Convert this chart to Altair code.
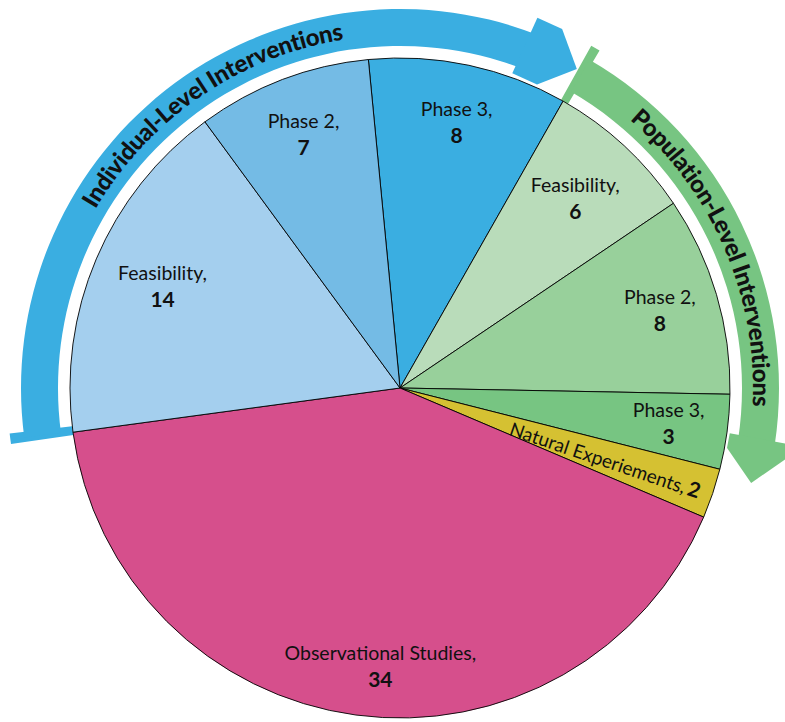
import math
import altair as alt
import pandas as pd

# ---------------- data ----------------
slice_names = ["Phase 3,", "Feasibility,", "Phase 2,", "Phase 3,",
               "Natural Experiements,", "Observational Studies,",
               "Feasibility,", "Phase 2,"]
slice_values = [8, 6, 8, 3, 2, 34, 14, 7]
slice_colors = ["#3aaee1", "#b9dcba", "#98d09b", "#77c582",
                "#d5c132", "#d64f8c", "#a4cfee", "#74bbe5"]
group_titles = ["Individual-Level Interventions", "Population-Level Interventions"]
group_colors = ["#3aaee1", "#77c582"]

# ---------------- layout ----------------
W, H = 785, 722
CX, CY = 400, 388
R = 330
T0 = math.radians(-5.5)
RB0, RB1 = 342, 379      # band radii
RT = 360                 # curved text radius


def rad(d):
    return math.radians(d)


df = pd.DataFrame({
    "idx": list(range(len(slice_values))),
    "name": slice_names,
    "value": slice_values,
    "num": [str(v) for v in slice_values],
})

pie = alt.Chart(df).mark_arc(radius=R, stroke="black", strokeWidth=0.9).encode(
    theta=alt.Theta("value:Q", stack=True,
                    scale=alt.Scale(range=[T0, T0 + 2 * math.pi])),
    order=alt.Order("idx:Q"),
    color=alt.Color("idx:N", scale=alt.Scale(domain=list(range(len(slice_values))),
                                             range=slice_colors), legend=None),
    x=alt.value(CX), y=alt.value(CY),
)

lab = alt.Chart(df).transform_window(
    cum="sum(value)", sort=[alt.SortField("idx", order="ascending")], frame=[None, 0]
).transform_joinaggregate(total="sum(value)").transform_calculate(
    mid=f"{T0} + 2*PI*(datum.cum - datum.value/2)/datum.total"
)

XE = alt.X("lx:Q", scale=None, axis=None)
YE = alt.Y("ly:Q", scale=None, axis=None)

std = lab.transform_filter("datum.idx != 4 && datum.idx != 5").transform_calculate(
    lr="(datum.idx == 1 || datum.idx == 6) ? 258 : 271"
).transform_calculate(
    lx=f"{CX} + datum.lr*sin(datum.mid)", ly=f"{CY} - datum.lr*cos(datum.mid)"
)
name_std = std.mark_text(font="Lato", fontSize=19.5, dy=-13, color="#111").encode(
    x=XE, y=YE, text="name:N")
num_std = std.mark_text(font="Lato", fontSize=21, fontWeight="bold", dy=14, color="#111").encode(
    x=XE, y=YE, text="num:N")

obs = lab.transform_filter("datum.idx == 5").transform_calculate(
    lx=f"{CX} + 282*sin(datum.mid)", ly=f"{CY} - 282*cos(datum.mid)"
)
name_obs = obs.mark_text(font="Lato", fontSize=19.5, dy=-13, dx=18, color="#111").encode(
    x=XE, y=YE, text="name:N")
num_obs = obs.mark_text(font="Lato", fontSize=21, fontWeight="bold", dy=14, dx=18, color="#111").encode(
    x=XE, y=YE, text="num:N")

nat_a = lab.transform_filter("datum.idx == 4").transform_calculate(
    lx=f"{CX} + 302*sin(datum.mid + 0.012)", ly=f"{CY} - 302*cos(datum.mid + 0.012)",
    ang="datum.mid*180/PI - 90"
)
nat_b = lab.transform_filter("datum.idx == 4").transform_calculate(
    lx=f"{CX} + 305*sin(datum.mid + 0.012)", ly=f"{CY} - 305*cos(datum.mid + 0.012)",
    ang="datum.mid*180/PI - 90"
)
name_nat = nat_a.mark_text(font="Lato", fontSize=19, align="right", baseline="middle", color="#111").encode(
    x=XE, y=YE, angle=alt.Angle("ang:Q", scale=None), text="name:N")
num_nat = nat_b.mark_text(font="Lato", fontSize=21, fontWeight="bold", align="left", baseline="middle", color="#111").encode(
    x=XE, y=YE, angle=alt.Angle("ang:Q", scale=None), text="num:N")

# ---------------- arrows ----------------
dummy = pd.DataFrame({"k": [0]})


def arc_piece(t0, t1, r0, r1, color):
    return alt.Chart(dummy).mark_arc(
        theta=rad(t0), theta2=rad(t1), radius=r0, radius2=r1, color=color
    ).encode(x=alt.value(CX), y=alt.value(CY))


arrow_layers = [
    # blue: tail bar, band
    arc_piece(261.8, 263.35, 330, 393, group_colors[0]),
    arc_piece(262.5, 381.0, RB0, RB1, group_colors[0]),
    # green: tail bar, band
    arc_piece(29.2, 30.6, 330, 392, group_colors[1]),
    arc_piece(30.0, 98.6, RB0, RB1, group_colors[1]),
]

heads = pd.DataFrame({"th": [24.3, 100.4], "r": [363.5, 362.5], "g": [0, 1]})
head_shapes = ["M-0.89,-1L0,-1L0.98,0L0,1L-0.89,1Z", "M-0.5,-1L0,-1L1,0L0,1L-0.5,1Z"]
head_sizes = [61 ** 2, 60 ** 2]
for g in range(2):
    arrow_layers.append(
        alt.Chart(heads).transform_filter(f"datum.g == {g}").transform_calculate(
            lx=f"{CX} + datum.r*sin(datum.th*PI/180)",
            ly=f"{CY} - datum.r*cos(datum.th*PI/180)",
        ).mark_point(shape=head_shapes[g], size=head_sizes[g], filled=True,
                     opacity=1, strokeWidth=0, color=group_colors[g]).encode(
            x=XE, y=YE, angle=alt.Angle("th:Q", scale=None))
    )

# ---------------- curved titles ----------------
LATO_BOLD = {'I': 0.30, 'n': 0.57, 'd': 0.57, 'i': 0.26, 'v': 0.53, 'u': 0.57,
             'a': 0.51, 'l': 0.26, '-': 0.37, 'L': 0.48, 'e': 0.54, ' ': 0.22,
             't': 0.37, 'r': 0.40, 'o': 0.58, 's': 0.44, 'P': 0.60, 'p': 0.57}


def arc_chars(text, th_first, th_last):
    w = [LATO_BOLD.get(c, 0.5) for c in text]
    centers, acc = [], 0.0
    for wi in w:
        centers.append(acc + wi / 2)
        acc += wi
    c0, c1 = centers[0], centers[-1]
    return [th_first + (c - c0) / (c1 - c0) * (th_last - th_first) for c in centers]


title_spans = [(301.0, 350.0), (41.8, 92.1)]
rows = []
for t, (a, b) in zip(group_titles, title_spans):
    for ch, th in zip(t, arc_chars(t, a, b)):
        rows.append({"ch": ch, "th": th})
chars = pd.DataFrame(rows)

title_text = alt.Chart(chars).transform_calculate(
    lx=f"{CX} + {RT}*sin(datum.th*PI/180)",
    ly=f"{CY} - {RT}*cos(datum.th*PI/180)",
    ang="datum.th % 360",
).mark_text(font="Lato", fontWeight=900, fontSize=24, align="center",
            baseline="middle", color="#111").encode(
    x=XE, y=YE, angle=alt.Angle("ang:Q", scale=None), text="ch:N")

chart = alt.layer(
    *arrow_layers, pie, name_std, num_std, name_obs, num_obs, name_nat, num_nat, title_text
).properties(
    width=W, height=H, padding=0, autosize=alt.AutoSizeParams(type="none")
).configure_view(stroke=None)

chart.save("out.html", embed_options={"renderer": "svg", "actions": False})
